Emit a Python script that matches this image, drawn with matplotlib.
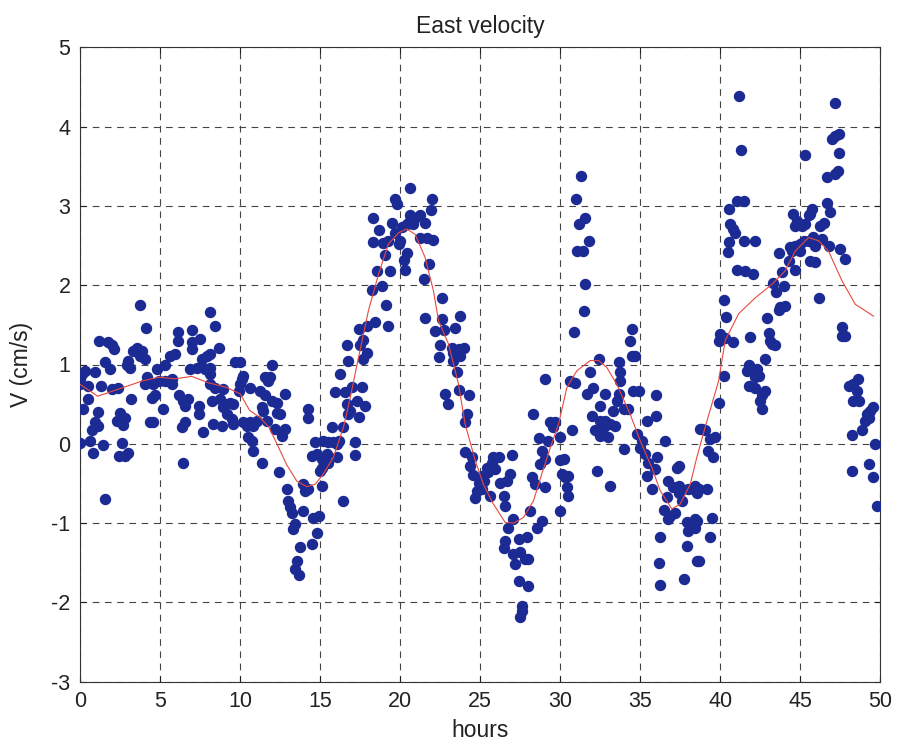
import matplotlib
matplotlib.use("Agg")
import matplotlib.pyplot as plt

# Observed east velocity samples (hours, cm/s)
hours = [
 3.75,4.1,1.19,1.77,1.98,2.14,3.54,3.33,3.85,3.75,4.06,3.02,2.92,3.12,1.56,1.87,0.31,0.1,0.0,0.0,
 0.94,1.31,0.52,1.98,2.39,3.19,0.52,0.21,1.1,2.5,2.81,2.29,2.71,0.94,1.14,0.73,0.0,0.63,1.46,2.6,
 0.83,2.4,2.81,3.02,1.56,
 4.79,5.31,5.63,5.94,6.1,6.1,6.98,6.98,7.5,6.98,8.13,8.44,7.6,7.92,7.29,6.88,7.81,4.17,4.06,4.9,
 5.31,5.73,5.73,4.58,4.48,4.69,6.15,6.46,6.77,6.56,7.4,7.4,5.21,8.23,8.33,4.38,4.58,6.56,6.35,7.71,6.4,
 8.65,8.1,8.13,8.13,9.69,10.0,11.98,10.2,10.1,10.0,11.56,11.88,11.77,8.13,8.44,8.96,10.63,9.9,11.25,11.56,
 11.98,12.29,12.81,8.75,9.06,9.38,9.58,8.96,9.17,9.48,11.35,11.46,12.29,12.5,11.67,14.27,14.27,10.2,10.63,11.04,
 10.83,10.42,8.85,9.58,12.19,12.81,12.6,15.73,16.46,16.15,10.52,10.73,10.83,14.69,15.2,15.52,15.83,16.04,14.48,14.79,
 15.42,15.1,15.52,16.04,11.35,15.1,15.0,12.4,12.92,13.96,14.27,14.06,15.1,16.46,13.02,13.13,13.23,13.96,14.58,14.9,
 13.44,13.33,14.79,13.75,14.48,13.54,13.44,13.65,16.67,16.77,16.25,15.94,16.56,16.67,16.77,
 20.63,19.69,19.79,22.0,18.33,18.65,19.48,19.69,20.63,20.94,21.25,21.56,20.83,20.63,20.42,20.1,21.94,18.33,18.96,19.27,
 20.0,19.9,21.25,21.67,22.08,19.06,20.42,20.21,20.31,21.81,18.54,19.38,21.46,18.23,18.85,22.6,19.1,21.56,22.6,23.75,
 17.4,17.92,18.44,19.23,22.19,22.71,23.44,17.71,17.5,22.5,23.23,23.65,23.96,23.33,23.75,17.92,17.71,22.4,23.33,23.54,
 16.98,17.6,17.29,17.81,22.81,23.02,23.65,24.31,16.88,17.4,24.17,24.06,17.19,17.19,24.06,24.48,24.38,24.58,24.9,25.1,
 24.79,24.69,
 29.06,28.33,29.38,29.69,29.58,28.65,29.27,30.0,30.63,30.94,30.73,25.83,26.15,25.73,25.42,25.94,25.52,26.98,26.88,26.25,
 26.67,25.21,25.1,25.63,26.46,26.56,28.85,28.75,29.06,28.23,28.44,29.06,30.0,30.21,30.1,30.31,30.52,30.42,30.52,32.29,
 33.13,27.08,26.77,28.13,30.0,28.85,28.54,27.4,27.92,26.56,26.46,27.08,27.5,27.19,27.81,28.02,27.4,28.02,27.6,27.6,
 27.5,31.88,32.08,31.67,32.5,31.98,32.5,32.81,33.13,32.71,32.19,32.5,33.02,33.44,33.33,33.65,33.54,32.81,32.4,33.65,
 31.29,31.0,31.15,31.56,31.83,31.04,31.42,31.56,31.46,30.88,34.48,34.38,34.48,34.69,33.75,33.75,34.58,34.9,35.98,35.98,
 35.42,34.79,35.1,35.0,35.31,33.96,34.27,34.02,36.56,36.04,35.52,35.94,35.42,35.73,37.4,37.29,36.77,37.08,37.4,36.67,
 37.6,37.45,38.02,38.33,38.54,36.46,36.88,37.19,36.77,37.92,38.23,38.02,38.44,36.25,37.92,38.54,36.15,36.25,37.71,38.75,
 41.19,47.15,41.31,45.31,46.98,47.19,47.4,47.44,46.67,47.19,47.35,41.04,41.46,40.52,40.63,40.83,40.94,40.52,40.48,41.46,
 42.15,41.04,41.56,42.02,44.52,44.79,44.69,45.1,45.31,45.63,45.73,45.52,46.67,46.88,46.46,46.25,43.65,44.38,44.48,44.27,
 44.69,45.0,45.21,45.52,45.83,45.94,46.35,46.77,45.0,45.63,45.94,44.65,43.85,47.5,47.81,43.27,43.48,43.96,46.15,43.75,
 44.06,43.65,40.21,40.35,42.92,41.88,40.0,39.9,40.31,40.83,43.02,43.23,43.44,43.13,47.6,47.81,47.6,42.81,41.77,41.67,
 42.29,42.4,42.19,40.21,41.77,42.19,42.81,42.6,42.5,42.6,48.02,48.33,48.6,48.54,48.33,48.65,39.9,49.17,49.38,49.58,
 49.06,48.85,49.27,48.23,49.65,38.85,39.06,39.38,39.69,39.27,39.58,48.23,49.27,49.52,49.79,38.65,39.17,38.44,39.48,38.54,
 38.44,39.38,38.65,
]
velocity = [
 1.75,1.46,1.30,1.28,1.24,1.20,1.21,1.17,1.17,1.11,1.07,1.05,1.0,0.96,1.03,0.94,0.92,0.88,0.82,0.75,
 0.90,0.73,0.73,0.69,0.71,0.57,0.57,0.44,0.40,0.39,0.33,0.29,0.24,0.27,0.23,0.17,0.01,0.03,-0.01,0.01,
 -0.12,-0.15,-0.15,-0.11,-0.69,
 0.94,1.0,1.11,1.13,1.41,1.30,1.43,1.28,1.32,1.19,1.66,1.49,1.07,1.11,0.96,0.94,0.94,0.84,0.75,0.79,
 0.79,0.82,0.75,0.75,0.58,0.61,0.61,0.54,0.56,0.48,0.48,0.37,0.44,0.54,0.25,0.28,0.27,0.27,0.21,0.15,-0.24,
 1.21,1.13,0.96,0.88,1.03,1.03,1.0,0.86,0.82,0.75,0.84,0.84,0.79,0.75,0.71,0.69,0.71,0.67,0.67,0.61,
 0.54,0.52,0.63,0.56,0.50,0.52,0.50,0.46,0.37,0.31,0.46,0.42,0.39,0.37,0.29,0.44,0.33,0.27,0.27,0.29,
 0.23,0.23,0.23,0.25,0.19,0.19,0.10,0.21,0.21,0.04,0.08,0.04,-0.09,0.02,0.04,0.02,0.02,0.0,-0.15,-0.13,
 -0.13,-0.19,-0.24,-0.17,-0.24,-0.30,-0.34,-0.36,-0.57,-0.51,-0.57,-0.59,-0.53,-0.72,-0.72,-0.80,-0.87,-0.85,-0.93,-0.91,
 -1.01,-1.08,-1.12,-1.30,-1.26,-1.48,-1.58,-1.66,1.24,1.05,0.88,0.65,0.65,0.50,0.37,
 3.22,3.09,3.02,3.09,2.85,2.69,2.79,2.66,2.88,2.85,2.88,2.79,2.77,2.81,2.77,2.73,2.95,2.55,2.53,2.56,
 2.56,2.52,2.60,2.60,2.57,2.38,2.40,2.32,2.19,2.27,2.18,2.18,2.08,1.94,1.99,1.84,1.75,1.59,1.57,1.61,
 1.45,1.49,1.53,1.48,1.42,1.43,1.46,1.31,1.24,1.25,1.21,1.19,1.21,1.14,1.11,1.15,1.07,1.10,1.04,0.91,
 0.72,0.72,0.54,0.48,0.63,0.50,0.68,0.61,0.42,0.34,0.38,0.28,0.02,-0.14,-0.10,-0.16,-0.28,-0.39,-0.49,-0.40,
 -0.59,-0.68,
 0.82,0.37,0.27,0.27,0.21,0.07,0.04,0.08,0.79,0.77,0.17,-0.17,-0.17,-0.24,-0.30,-0.32,-0.36,-0.14,-0.38,-0.49,
 -0.47,-0.47,-0.57,-0.66,-0.66,-0.79,-0.09,-0.26,-0.19,-0.42,-0.51,-0.55,-0.21,-0.19,-0.38,-0.42,-0.40,-0.55,-0.66,-0.34,
 -0.53,-0.95,-1.06,-0.85,-0.85,-0.97,-1.06,-1.20,-1.17,-1.22,-1.31,-1.39,-1.36,-1.52,-1.45,-1.45,-1.73,-1.79,-2.04,-2.11,
 -2.18,0.90,0.71,0.63,0.48,0.35,0.29,0.29,0.25,0.21,0.17,0.10,0.08,0.23,0.42,0.63,0.54,0.63,1.07,1.03,
 3.38,3.09,2.77,2.85,2.56,2.43,2.43,2.01,1.67,1.41,1.45,1.30,1.11,1.11,0.90,0.79,0.67,0.67,0.61,0.35,
 0.29,0.12,0.04,-0.05,-0.13,0.44,0.44,-0.07,0.03,-0.17,-0.24,-0.32,-0.40,-0.57,-0.28,-0.30,-0.47,-0.55,-0.62,-0.67,
 -0.72,-0.53,-0.57,-0.57,-0.62,-0.84,-0.91,-0.87,-0.95,-0.99,-1.03,-1.10,-0.95,-1.17,-1.29,-1.48,-1.50,-1.78,-1.71,0.19,
 4.39,4.30,3.71,3.64,3.84,3.88,3.91,3.67,3.36,3.40,3.44,3.06,3.06,2.96,2.77,2.71,2.66,2.54,2.42,2.56,
 2.56,2.19,2.18,2.14,2.90,2.81,2.75,2.75,2.77,2.90,2.96,2.88,3.04,2.92,2.79,2.75,2.40,2.48,2.43,2.31,
 2.50,2.52,2.56,2.56,2.61,2.50,2.58,2.50,2.43,2.31,2.29,2.19,2.17,2.46,2.33,2.03,1.91,1.99,1.84,1.72,
 1.74,1.69,1.81,1.60,1.58,1.35,1.39,1.29,1.34,1.28,1.40,1.26,1.25,1.30,1.47,1.36,1.36,1.07,1.0,0.92,
 0.94,0.86,0.84,0.86,0.73,0.71,0.67,0.61,0.54,0.44,0.73,0.75,0.82,0.67,0.54,0.54,0.51,0.37,0.42,0.46,
 0.29,0.17,0.33,0.11,0.0,0.19,0.17,0.06,0.08,-0.09,-0.17,-0.34,-0.26,-0.42,-0.78,-0.57,-0.57,-0.53,-0.93,-0.97,
 -1.06,-1.18,-1.48,
]

# Smoothed trend (red line)
trend_h = [0.0,1.1,2.4,3.85,4.9,5.94,6.98,8.02,9.17,10.0,10.6,11.25,11.8,12.3,12.9,13.54,14.17,14.69,15.2,15.83,
           16.46,16.88,17.4,18.02,18.65,19.27,19.9,20.42,20.94,21.56,22.08,22.4,23.02,23.65,24.06,24.69,25.2,
           25.8,26.56,27.08,27.7,28.33,28.85,29.38,29.9,30.42,31.04,31.88,32.4,32.92,33.54,34.38,35.0,35.73,
           36.25,36.98,37.5,38.13,38.54,39.06,39.9,40.31,41.15,42.19,43.23,44.06,44.69,45.52,46.15,46.77,47.6,
           48.44,49.58]
trend_v = [0.75,0.60,0.69,0.79,0.84,0.82,0.85,0.77,0.71,0.63,0.42,0.33,0.21,0.0,-0.26,-0.47,-0.54,-0.51,-0.38,-0.17,
           0.21,0.58,1.09,1.68,2.14,2.52,2.66,2.71,2.64,2.35,1.93,1.55,1.26,0.75,0.25,-0.21,-0.51,
           -0.75,-0.99,-1.0,-0.93,-0.72,-0.38,-0.05,0.25,0.71,0.92,1.05,1.05,0.96,0.75,0.37,0.04,-0.30,
           -0.59,-0.82,-0.76,-0.51,-0.17,0.21,0.79,1.30,1.64,1.84,2.01,2.18,2.43,2.60,2.56,2.43,2.06,
           1.76,1.61]

x_ticks = list(range(0, 51, 5))
y_ticks = list(range(-3, 6, 1))

plt.rcParams['font.family'] = ['Liberation Sans', 'DejaVu Sans']
plt.rcParams['axes.unicode_minus'] = False

fig = plt.figure(figsize=(9, 7.5), dpi=100)
ax = fig.add_axes([0.089, 0.091, 0.889, 0.846])

ax.plot(hours, velocity, 'o', ms=7.2, color='#1c2a94', mec='#1c2a94', zorder=3)
ax.plot(trend_h, trend_v, '-', color='#e8483e', lw=0.8, zorder=4)

ax.set_xlim(0, 50)
ax.set_ylim(-3, 5)
ax.set_xticks(x_ticks)
ax.set_yticks(y_ticks)
ax.grid(True, color='#444444', linestyle=(0, (6, 5)), linewidth=0.8)
ax.set_axisbelow(True)
ax.tick_params(direction='in', top=True, right=True, labelsize=15.5, length=4, pad=7, colors='#222222')
for s in ax.spines.values():
    s.set_linewidth(0.8)
    s.set_color('#333333')

ax.set_title('East velocity', fontsize=16.5, pad=10, color='#222222')
ax.set_xlabel('hours', fontsize=16.5, labelpad=5, color='#222222')
ax.set_ylabel('V (cm/s)', fontsize=16.5, labelpad=13, color='#222222')

fig.savefig('out.png', dpi=100)
